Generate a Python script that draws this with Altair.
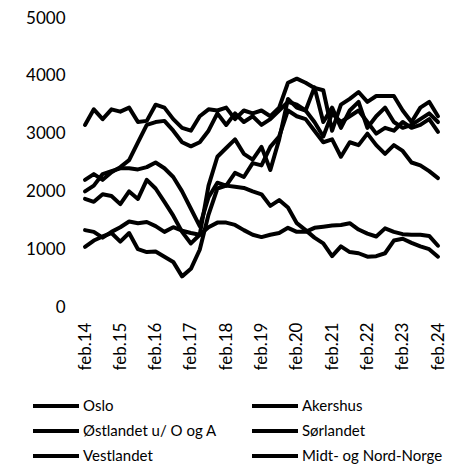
import altair as alt
import pandas as pd

# quarterly observations, month index from feb.14 (0) to feb.24 (120)
months = list(range(0, 121, 3))
regions = ["Oslo", "Akershus", "Østlandet u/ O og A", "Sørlandet", "Vestlandet", "Midt- og Nord-Norge"]
# legend fills column by column: this order gives the reference's row order
legend_order = ["Oslo", "Østlandet u/ O og A", "Vestlandet", "Akershus", "Sørlandet", "Midt- og Nord-Norge"]

oslo = [3150, 3420, 3250, 3420, 3380, 3450, 3200, 3220, 3500, 3450,
        3250, 3100, 3050, 3300, 3420, 3400, 3450, 3250, 3400, 3350,
        3400, 3300, 3450, 3880, 3950, 3880, 3790, 3750, 3050, 3500,
        3600, 3720, 3550, 3650, 3650, 3650, 3400, 3200, 3450, 3550, 3300]
akershus = [2200, 2300, 2200, 2330, 2420, 2540, 2850, 3150, 3200, 3220,
            3050, 2850, 2780, 2850, 3050, 3350, 3150, 3350, 3200, 3300,
            3150, 3250, 3400, 3550, 3500, 3400, 3800, 3200, 3450, 3100,
            3400, 3550, 3100, 3300, 3450, 3200, 3100, 3150, 3250, 3350, 3200]
ostlandet = [2000, 2100, 2300, 2350, 2400, 2400, 2380, 2420, 2500, 2400,
             2250, 2000, 1700, 1400, 1900, 2150, 2100, 2320, 2250, 2490,
             2450, 2770, 2950, 3400, 3300, 3250, 3050, 2850, 2900, 2600,
             2850, 2800, 3000, 2800, 2650, 2800, 2700, 2500, 2450, 2350, 2230]
sorlandet = [1870, 1820, 1950, 1920, 1780, 2000, 1870, 2200, 2050, 1820,
             1580, 1300, 1100, 1250, 2100, 2600, 2750, 2900, 2650, 2550,
             2770, 2370, 2900, 3600, 3450, 3400, 3200, 2950, 3350, 3200,
             3300, 3400, 3200, 3000, 3100, 3050, 3200, 3100, 3150, 3250, 3030]
vestlandet = [1330, 1300, 1200, 1300, 1380, 1480, 1450, 1470, 1400, 1300,
              1380, 1320, 1280, 1250, 1380, 1460, 1460, 1420, 1330, 1250,
              1210, 1250, 1280, 1370, 1300, 1300, 1370, 1390, 1410, 1420,
              1450, 1340, 1270, 1220, 1360, 1300, 1260, 1250, 1250, 1230, 1060]
midt = [1040, 1150, 1220, 1280, 1130, 1280, 1000, 950, 960, 870,
        780, 530, 660, 990, 1600, 2050, 2100, 2080, 2060, 2000,
        1950, 1750, 1850, 1720, 1450, 1330, 1200, 1100, 880, 1050,
        950, 930, 870, 880, 930, 1150, 1180, 1110, 1050, 1000, 870]

series = [oslo, akershus, ostlandet, sorlandet, vestlandet, midt]
x_ticks = list(range(0, 121, 12))
y_ticks = [0, 1000, 2000, 3000, 4000, 5000]

rows = []
for name, vals in zip(regions, series):
    for m, v in zip(months, vals):
        rows.append({"region": name, "month": m, "value": v})
df = pd.DataFrame(rows)

font = "Lato"

chart = alt.Chart(df).mark_line(strokeWidth=4, strokeJoin="round", strokeCap="round").encode(
    x=alt.X("month:Q",
            scale=alt.Scale(domain=[0, 120], nice=False, zero=False),
            axis=alt.Axis(values=x_ticks, labelExpr="'feb.' + (14 + datum.value / 12)",
                          labelAngle=270, labelAlign="right", labelBaseline="middle",
                          ticks=False, domain=False, grid=False, labelPadding=15,
                          labelFlush=False, labelOverlap=False, title=None,
                          labelFontSize=17, labelFont=font, labelColor="black")),
    y=alt.Y("value:Q",
            scale=alt.Scale(domain=[0, 5000], nice=False),
            axis=alt.Axis(values=y_ticks, format="d", ticks=False, domain=False, grid=False,
                          labelPadding=20, labelFlush=False, title=None,
                          labelFontSize=17, labelFont=font, labelColor="black")),
    color=alt.Color("region:N",
                    scale=alt.Scale(domain=legend_order, range=["black"] * 6),
                    legend=alt.Legend(orient="none", legendX=-54, legendY=379, columns=2,
                                      symbolType="stroke", symbolSize=2116, symbolStrokeWidth=4,
                                      labelFontSize=15, labelFont=font, labelColor="black",
                                      labelOffset=2, columnPadding=33, rowPadding=7,
                                      clipHeight=18, padding=0, symbolOffset=0,
                                      labelLimit=300, title=None)),
).properties(
    width=353, height=289,
    autosize=alt.AutoSizeParams(type="none"),
    padding={"left": 77, "top": 10, "right": 11, "bottom": 157},
).configure_view(stroke=None)

chart.save("out.html", embed_options={"renderer": "svg", "actions": False})
